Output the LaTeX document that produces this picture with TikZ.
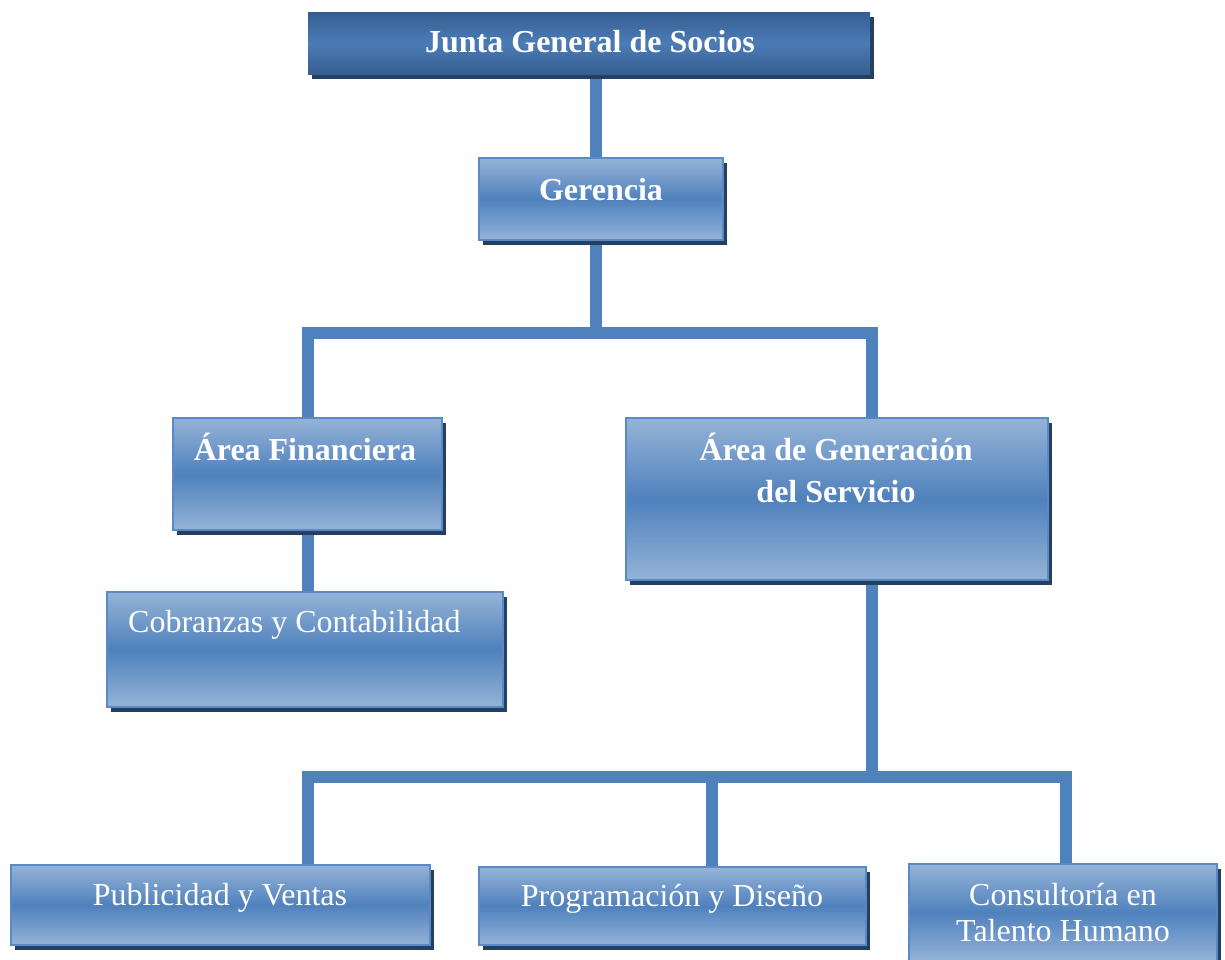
\documentclass[tikz,border=0pt]{standalone}
\usepackage{fontspec}
\setmainfont{Liberation Serif}
\usetikzlibrary{shadows,backgrounds}

\definecolor{lightblue}{HTML}{95B3D7}
\definecolor{midblue}{HTML}{4F81BD}
\definecolor{edgeblue}{HTML}{5A8AC6}
\definecolor{darkblue}{HTML}{365E91}
\definecolor{navy}{HTML}{243F60}

\tikzset{
  box/.style={rectangle, inner sep=0pt, draw=edgeblue, line width=2pt,
    top color=lightblue, bottom color=lightblue, middle color=midblue,
    general shadow={shadow xshift=4pt, shadow yshift=-5pt, fill=navy}},
  topbox/.style={rectangle, inner sep=0pt, draw=none,
    top color=darkblue, bottom color=darkblue, middle color=midblue!85!darkblue,
    general shadow={shadow xshift=4pt, shadow yshift=-5pt, fill=navy}},
  txt/.style={text=white, font=\fontsize{32}{38}\selectfont, anchor=base, inner sep=0pt},
  btxt/.style={txt, font=\fontsize{32}{38}\selectfont\bfseries},
  link/.style={draw=midblue, line width=12.5pt, line join=miter}
}

\begin{document}
\begin{tikzpicture}[x=1pt, y=-1pt]
\useasboundingbox (0,0) rectangle (1225,959);

% boxes, sized by their corners
\node[topbox, minimum width=562pt, minimum height=62pt] (junta) at (589,43) {};
\node[box, minimum width=244pt, minimum height=82pt] (gerencia) at (601,199) {};
\node[box, minimum width=269pt, minimum height=112pt] (fin) at (307.5,474) {};
\node[box, minimum width=422pt, minimum height=162pt] (gen) at (837,499) {};
\node[box, minimum width=396pt, minimum height=115pt] (cob) at (305,649.5) {};
\node[box, minimum width=419pt, minimum height=80pt] (pub) at (220.5,905) {};
\node[box, minimum width=387pt, minimum height=78pt] (prog) at (672.5,906) {};
\node[box, minimum width=308pt, minimum height=97pt] (cons) at (1063,912.5) {};

% labels
\node[btxt] (tjunta) at (590,52) {Junta General de Socios};
\node[btxt] (tger) at (601,200) {Gerencia};
\node[btxt] (tfin) at (305,460) {Área Financiera};
\node[btxt] (tgen1) at (836,460) {Área de Generación};
\node[btxt] (tgen2) at (836,502) {del Servicio};
\node[txt, anchor=base west] (tcob) at (128,632) {Cobranzas y Contabilidad};
\node[txt] (tpub) at (220,905) {Publicidad y Ventas};
\node[txt] (tprog) at (672,906) {Programación y Diseño};
\node[txt] (tcons1) at (1063,905) {Consultoría en};
\node[txt] (tcons2) at (1063,941) {Talento Humano};

% branch points of the connectors
\coordinate (b1) at (596,333);
\coordinate (b2) at (872,777);
\coordinate (l1) at (308,333);
\coordinate (r1) at (872,333);
\coordinate (l2) at (308,777);
\coordinate (m2) at (712,777);
\coordinate (r2) at (1066,777);

\begin{scope}[on background layer]
  \path[link] (junta.south -| b1) -- (gerencia.north -| b1);
  \path[link] (gerencia.south -| b1) -- (b1);
  \path[link] (fin.north -| l1) -- (l1) -- (r1) -- (gen.north -| r1);
  \path[link] (fin.south -| l1) -- (cob.north -| l1);
  \path[link] (gen.south -| b2) -- (b2);
  \path[link] (pub.north -| l2) -- (l2) -- (r2) -- (cons.north -| r2);
  \path[link] (m2) -- (prog.north -| m2);
\end{scope}
\end{tikzpicture}
\end{document}
